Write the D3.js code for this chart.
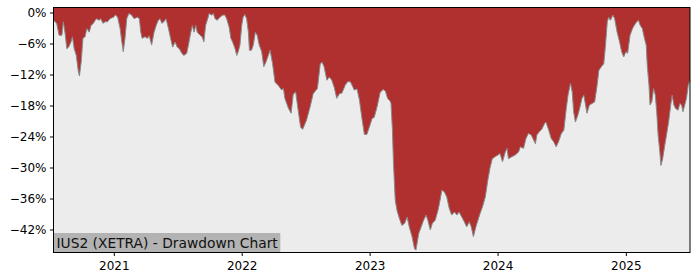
<!DOCTYPE html>
<html>
<head>
<meta charset="utf-8">
<script src="https://cdn.jsdelivr.net/npm/d3@7"></script>
<style>
  body { margin: 0; background: #fff; }
  svg { display: block; font-family: "DejaVu Sans", sans-serif; }
</style>
</head>
<body>
<svg width="700" height="280"></svg>
<script>
// drawdown readings (date, % below running peak)
var dates = [
  "2020-07-13","2020-07-22","2020-07-29","2020-08-06","2020-08-10","2020-08-15","2020-08-20","2020-08-25",
  "2020-09-01","2020-09-05","2020-09-10","2020-09-16","2020-09-22","2020-09-25","2020-09-30","2020-10-05",
  "2020-10-11","2020-10-16","2020-10-23","2020-10-28","2020-11-04","2020-11-09","2020-11-13","2020-11-20",
  "2020-11-25","2020-12-01","2020-12-07","2020-12-14","2020-12-21","2020-12-31",
  "2021-01-06","2021-01-12","2021-01-19","2021-01-24","2021-01-28","2021-02-02","2021-02-07","2021-02-13",
  "2021-02-21","2021-02-28","2021-03-09","2021-03-15","2021-03-19","2021-03-23","2021-03-31","2021-04-07",
  "2021-04-12","2021-04-19","2021-04-26","2021-05-02","2021-05-08","2021-05-13","2021-05-18","2021-05-24",
  "2021-05-30","2021-06-06","2021-06-12","2021-06-18","2021-06-25","2021-07-01","2021-07-07","2021-07-14",
  "2021-07-20","2021-07-28","2021-08-02","2021-08-08","2021-08-13","2021-08-18","2021-08-23","2021-08-27",
  "2021-09-04","2021-09-10","2021-09-15","2021-09-20","2021-09-26","2021-09-30","2021-10-07","2021-10-12",
  "2021-10-17","2021-10-23","2021-10-31","2021-11-08","2021-11-14","2021-11-19","2021-11-26","2021-12-01",
  "2021-12-06","2021-12-13","2021-12-18","2021-12-22","2021-12-27",
  "2022-01-01","2022-01-05","2022-01-10","2022-01-15","2022-01-20","2022-01-23","2022-01-29","2022-02-03",
  "2022-02-09","2022-02-14","2022-02-20","2022-02-27","2022-03-05","2022-03-11","2022-03-18","2022-03-23",
  "2022-03-30","2022-04-06","2022-04-15","2022-04-25","2022-04-30","2022-05-04","2022-05-14","2022-05-22",
  "2022-05-28","2022-06-04","2022-06-11","2022-06-18","2022-06-24","2022-07-05","2022-07-15","2022-07-24",
  "2022-08-05","2022-08-13","2022-08-18","2022-08-24","2022-09-01","2022-09-08","2022-09-15","2022-09-22",
  "2022-09-29","2022-10-07","2022-10-14","2022-10-23","2022-10-30","2022-11-07","2022-11-12","2022-11-18",
  "2022-11-26","2022-12-03","2022-12-10","2022-12-17","2022-12-24",
  "2023-01-01","2023-01-08","2023-01-14","2023-01-22","2023-01-31","2023-02-08","2023-02-15","2023-02-21",
  "2023-03-01","2023-03-03","2023-03-07","2023-03-10","2023-03-15","2023-03-20","2023-03-27","2023-04-03",
  "2023-04-11","2023-04-18","2023-04-24","2023-05-02","2023-05-09","2023-05-13","2023-05-21","2023-05-28",
  "2023-06-04","2023-06-11","2023-06-16","2023-06-23","2023-06-29","2023-07-07","2023-07-15","2023-07-21",
  "2023-07-26","2023-08-02","2023-08-09","2023-08-16","2023-08-23","2023-08-31","2023-09-07","2023-09-13",
  "2023-09-21","2023-09-28","2023-10-05","2023-10-12","2023-10-18","2023-10-24","2023-10-31","2023-11-06",
  "2023-11-12","2023-11-19","2023-11-27","2023-12-04","2023-12-11","2023-12-17","2023-12-25",
  "2024-01-02","2024-01-08","2024-01-15","2024-01-23","2024-01-28","2024-02-01","2024-02-11","2024-02-20",
  "2024-03-01","2024-03-06","2024-03-15","2024-03-22","2024-03-29","2024-04-06","2024-04-13","2024-04-18",
  "2024-04-22","2024-04-29","2024-05-07","2024-05-14","2024-05-18","2024-05-26","2024-06-02","2024-06-09",
  "2024-06-16","2024-06-23","2024-07-01","2024-07-08","2024-07-15","2024-07-20","2024-07-27","2024-08-01",
  "2024-08-05","2024-08-10","2024-08-17","2024-08-22","2024-08-29","2024-09-03","2024-09-08","2024-09-12",
  "2024-09-19","2024-09-27","2024-10-04","2024-10-11","2024-10-16","2024-10-23","2024-10-30","2024-11-04",
  "2024-11-09","2024-11-13","2024-11-18","2024-11-25","2024-11-30","2024-12-07","2024-12-14","2024-12-20",
  "2024-12-26",
  "2025-01-01","2025-01-06","2025-01-13","2025-01-20","2025-01-25","2025-02-01","2025-02-06","2025-02-11",
  "2025-02-17","2025-02-23","2025-02-28","2025-03-03","2025-03-08","2025-03-11","2025-03-16","2025-03-21",
  "2025-03-26","2025-03-30","2025-04-03","2025-04-08","2025-04-11","2025-04-16","2025-04-22","2025-04-27",
  "2025-05-03","2025-05-09","2025-05-13","2025-05-18","2025-05-23","2025-05-30","2025-06-04","2025-06-09",
  "2025-06-13","2025-06-18","2025-06-23","2025-06-28","2025-07-03"
];
var drawdown = [
  -1.5,-2.1,-4.4,-4.4,-1.8,-4.0,-7.0,-6.7,
  -5.7,-4.7,-7.0,-8.3,-11.5,-12.3,-9.6,-5.0,
  -4.7,-3.1,-3.8,-2.5,-2.1,-1.5,-1.2,-1.5,
  -1.2,-2.1,-1.8,-1.8,-1.2,-0.9,
  -0.5,-0.9,-3.1,-5.7,-7.6,-5.0,-1.2,-0.2,
  -0.5,-1.2,-0.9,-1.2,-3.8,-5.0,-4.7,-5.0,
  -4.5,-6.3,-3.8,-2.5,-1.5,-1.2,-2.1,-1.8,
  -1.2,-3.1,-5.0,-6.7,-5.7,-6.7,-7.0,-7.9,
  -8.3,-7.9,-6.3,-4.1,-2.5,-3.8,-2.5,-3.8,
  -4.4,-4.7,-5.7,-2.5,-1.2,-0.2,-0.5,-0.2,
  -1.2,-1.5,-0.9,-0.5,-0.5,-1.2,-2.8,-5.0,
  -5.7,-7.0,-8.3,-7.6,-6.3,
  -2.5,-0.9,-0.4,-1.2,-3.8,-7.3,-7.3,-6.3,
  -3.8,-4.4,-6.3,-7.6,-10.5,-9.6,-8.3,-7.3,
  -9.9,-13.5,-14.1,-15.0,-14.7,-16.6,-18.5,-19.5,
  -15.8,-15.4,-18.9,-22.2,-22.6,-20.8,-18.3,-15.7,
  -14.7,-10.0,-9.6,-10.5,-13.1,-12.5,-13.1,-14.5,
  -16.6,-15.7,-15.6,-14.1,-13.4,-13.4,-14.1,-15.0,
  -14.8,-17.0,-20.5,-23.6,-23.6,
  -22.0,-20.5,-20.3,-18.3,-15.5,-14.9,-15.2,-16.6,
  -17.2,-17.6,-22.8,-29.2,-36.3,-38.3,-39.9,-41.2,
  -40.8,-39.6,-41.5,-43.4,-45.7,-46.0,-42.8,-41.5,
  -40.2,-39.2,-40.2,-42.1,-40.8,-40.2,-38.3,-36.3,
  -34.4,-34.7,-35.7,-37.9,-39.2,-38.6,-39.2,-38.6,
  -39.6,-40.5,-41.5,-40.5,-41.5,-43.4,-41.5,-40.2,
  -38.9,-37.6,-35.7,-32.5,-29.9,-28.3,-27.9,
  -27.6,-27.3,-28.9,-27.0,-26.3,-28.3,-27.9,-27.6,
  -27.0,-26.0,-26.3,-24.4,-23.4,-23.7,-24.7,-25.4,
  -23.7,-23.1,-22.5,-21.5,-21.2,-22.8,-24.4,-25.0,
  -26.0,-25.0,-23.4,-22.8,-18.6,-16.0,-13.7,-15.4,
  -19.2,-21.2,-19.9,-18.6,-16.6,-16.0,-17.9,-19.5,
  -17.9,-17.6,-17.3,-14.1,-11.2,-10.5,-9.9,-6.3,
  -1.8,-0.9,-1.5,-0.5,-1.2,-3.8,-5.7,-7.6,
  -8.6,
  -7.6,-7.9,-4.4,-3.1,-2.5,-1.8,-1.5,-2.5,
  -3.1,-5.0,-6.3,-10.2,-14.1,-17.9,-17.3,-14.7,
  -16.0,-19.2,-23.7,-27.0,-29.6,-28.3,-25.7,-23.7,
  -21.2,-17.9,-16.0,-17.9,-18.6,-18.9,-17.6,-17.9,
  -19.2,-17.9,-16.6,-14.1,-13.1
];
var yTicks = [0, -6, -12, -18, -24, -30, -36, -42];
var xTickYears = [2021, 2022, 2023, 2024, 2025];
var title = "IUS2 (XETRA) - Drawdown Chart";

var svg = d3.select("svg");
var margin = {"top": 7.5, "right": 10, "bottom": 27.5, "left": 53.5};
var width = +svg.attr("width") - margin.left - margin.right;
var height = +svg.attr("height") - margin.top - margin.bottom;
var g = svg.append("g").attr("transform", "translate(" + margin.left + "," + margin.top + ")");

var parse = d3.timeParse("%Y-%m-%d");
var data = dates.map(function (d, i) {
    return {date: parse(d), value: drawdown[i]};
});

var x = d3.scaleTime().domain(d3.extent(data, function (d) { return d.date; })).range([0, width]);
var y = d3.scaleLinear().domain([-46.45, 0.97]).range([height, 0]);

g.append("rect").attr("width", width).attr("height", height).attr("fill", "#ececec");

var area = d3.area()
    .x(function (d) { return x(d.date); })
    .y0(0)
    .y1(function (d) { return y(d.value); });

g.append("path").datum(data).attr("d", area).attr("fill", "#b03030");

var line = d3.line()
    .x(function (d) { return x(d.date); })
    .y(function (d) { return y(d.value); });

g.append("path").datum(data).attr("d", line)
    .attr("fill", "none").attr("stroke", "#8a8a8a").attr("stroke-width", 1);

// title box
var label = g.append("g").attr("transform", "translate(0," + height + ")");
var txt = label.append("text").attr("x", 3).attr("y", -5)
    .attr("font-size", 13.8).attr("fill", "#111").text(title);
var bb = txt.node().getBBox();
label.insert("rect", "text").attr("x", 0).attr("y", -19.5)
    .attr("width", bb.width + 5).attr("height", 19.5).attr("fill", "#b3b3b3");

var fmtPct = function (d) { return (d < 0 ? "\u2212" + (-d) : d) + "%"; };

var yAxis = g.append("g")
    .call(d3.axisLeft(y).tickValues(yTicks).tickFormat(fmtPct).tickSize(3.5).tickPadding(3.5));
var xAxis = g.append("g").attr("transform", "translate(0," + height + ")")
    .call(d3.axisBottom(x)
        .tickValues(xTickYears.map(function (yr) { return new Date(yr, 0, 1); }))
        .tickFormat(d3.timeFormat("%Y")).tickSize(3.5).tickPadding(5));

[yAxis, xAxis].forEach(function (a) {
    a.select(".domain").remove();
    a.selectAll("text").attr("font-size", 12).attr("fill", "#000").attr("font-family", "DejaVu Sans");
    a.selectAll("line").attr("stroke", "#000");
});

g.append("rect").attr("width", width).attr("height", height)
    .attr("fill", "none").attr("stroke", "#000").attr("stroke-width", 1);
</script>
</body>
</html>
